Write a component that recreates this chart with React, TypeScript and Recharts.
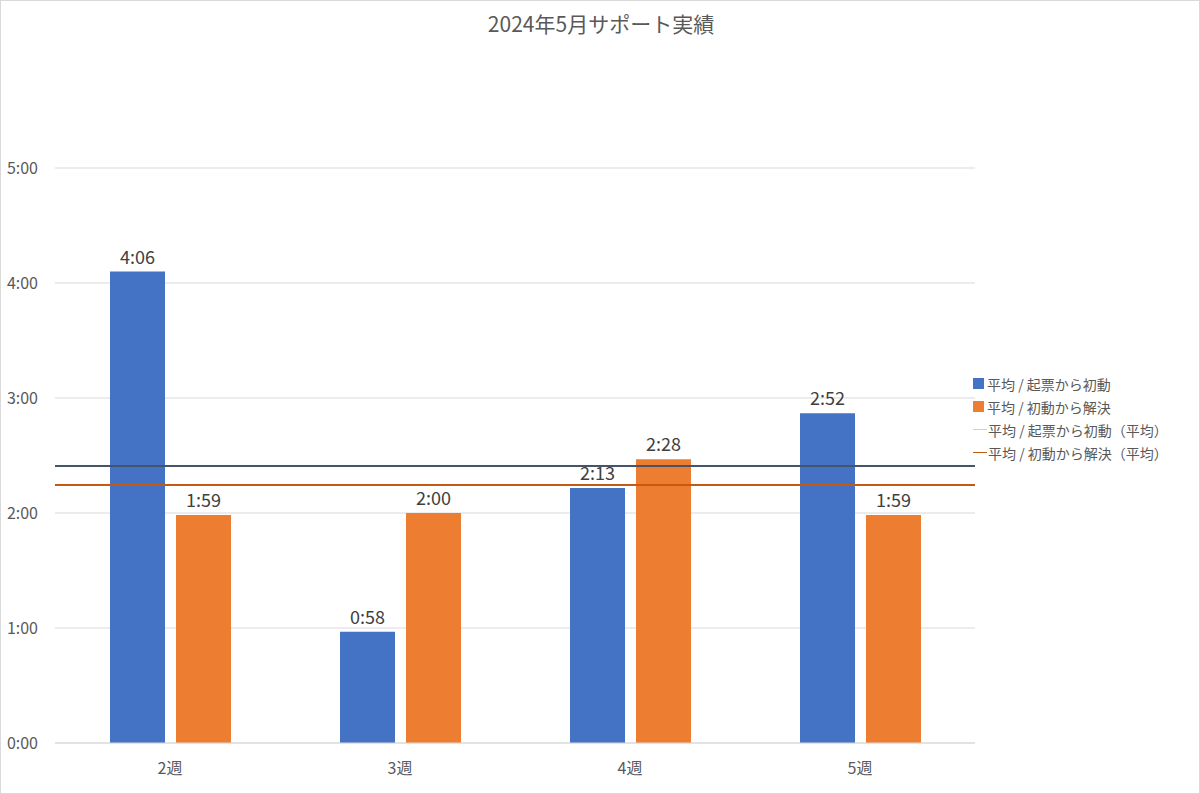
import {
  ComposedChart,
  Bar,
  XAxis,
  YAxis,
  CartesianGrid,
  ReferenceLine,
  LabelList,
} from 'recharts'

const weeks = ['2週', '3週', '4週', '5週']
// 値は分単位
const kihyoToShodo = [246, 58, 133, 172]
const shodoToKaiketsu = [119, 120, 148, 119]
const avgKihyoToShodo = 144.5
const avgShodoToKaiketsu = 134.6
const yTicks = [0, 60, 120, 180, 240, 300]

const data = weeks.map((w, i) => ({
  week: w,
  a: kihyoToShodo[i],
  b: shodoToKaiketsu[i],
}))

const fmt = (m: number) => {
  const h = Math.floor(m / 60)
  const mm = Math.round(m - h * 60)
  return `${h}:${String(mm).padStart(2, '0')}`
}

const FONT = '"Noto Sans CJK JP", "Noto Sans", sans-serif'

const legendItems = [
  { label: '平均 / 起票から初動', color: '#4472C4', type: 'box' },
  { label: '平均 / 初動から解決', color: '#ED7D31', type: 'box' },
  { label: '平均 / 起票から初動（平均）', color: '#D0D0D0', type: 'line' },
  { label: '平均 / 初動から解決（平均）', color: '#C65911', type: 'line' },
]

const CustomLegend = () => (
  <div
    style={{
      position: 'absolute',
      left: 972,
      top: 371,
      fontFamily: FONT,
      fontSize: 14,
      color: '#595959',
    }}
  >
    {legendItems.map((it) => (
      <div key={it.label} style={{ display: 'flex', alignItems: 'center', height: 23 }}>
        {it.type === 'box' ? (
          <span style={{ display: 'inline-block', width: 11, height: 11, background: it.color, marginRight: 3 }} />
        ) : (
          <span style={{ display: 'inline-block', width: 14, height: 1, background: it.color, marginRight: 1 }} />
        )}
        <span>{it.label}</span>
      </div>
    ))}
  </div>
)

export default function App() {
  return (
    <div
      style={{
        position: 'absolute',
        left: 0,
        top: 0,
        width: 1200,
        height: 794,
        border: '1px solid #d9d9d9',
        boxSizing: 'border-box',
        background: '#fff',
      }}
    >
      <div
        style={{
          position: 'absolute',
          top: 7,
          left: 0,
          width: 1200,
          textAlign: 'center',
          fontFamily: FONT,
          fontSize: 21,
          color: '#595959',
        }}
      >
        2024年5月サポート実績
      </div>
      <div style={{ position: 'absolute', left: -1, top: -1 }}>
        <ComposedChart
          width={1200}
          height={794}
          data={data}
          margin={{ top: 168, right: 225, left: 0, bottom: 0 }}
          barSize={55}
          barGap={11}
        >
          <CartesianGrid vertical={false} stroke="#d9d9d9" />
          <XAxis
            dataKey="week"
            axisLine={{ stroke: '#d9d9d9' }}
            tickLine={false}
            tickSize={0}
            tickMargin={20}
            height={51}
            tick={{ fontSize: 16, fill: '#595959', fontFamily: FONT }}
          />
          <YAxis
            domain={[0, 300]}
            ticks={yTicks}
            tickFormatter={fmt}
            axisLine={false}
            tickLine={false}
            tickSize={0}
            tickMargin={17}
            width={55}
            tick={{ fontSize: 16, fill: '#595959', fontFamily: FONT }}
          />
          <Bar dataKey="a" fill="#4472C4" isAnimationActive={false}>
            <LabelList
              dataKey="a"
              position="top"
              offset={8}
              formatter={(v: any) => fmt(Number(v))}
              style={{ fontSize: 18, fill: '#404040', fontFamily: FONT }}
            />
          </Bar>
          <Bar dataKey="b" fill="#ED7D31" isAnimationActive={false}>
            <LabelList
              dataKey="b"
              position="top"
              offset={8}
              formatter={(v: any) => fmt(Number(v))}
              style={{ fontSize: 18, fill: '#404040', fontFamily: FONT }}
            />
          </Bar>
          <ReferenceLine y={avgKihyoToShodo} stroke="#44546A" strokeWidth={2} />
          <ReferenceLine y={avgShodoToKaiketsu} stroke="#C65911" strokeWidth={2} />
        </ComposedChart>
      </div>
      <CustomLegend />
    </div>
  )
}
